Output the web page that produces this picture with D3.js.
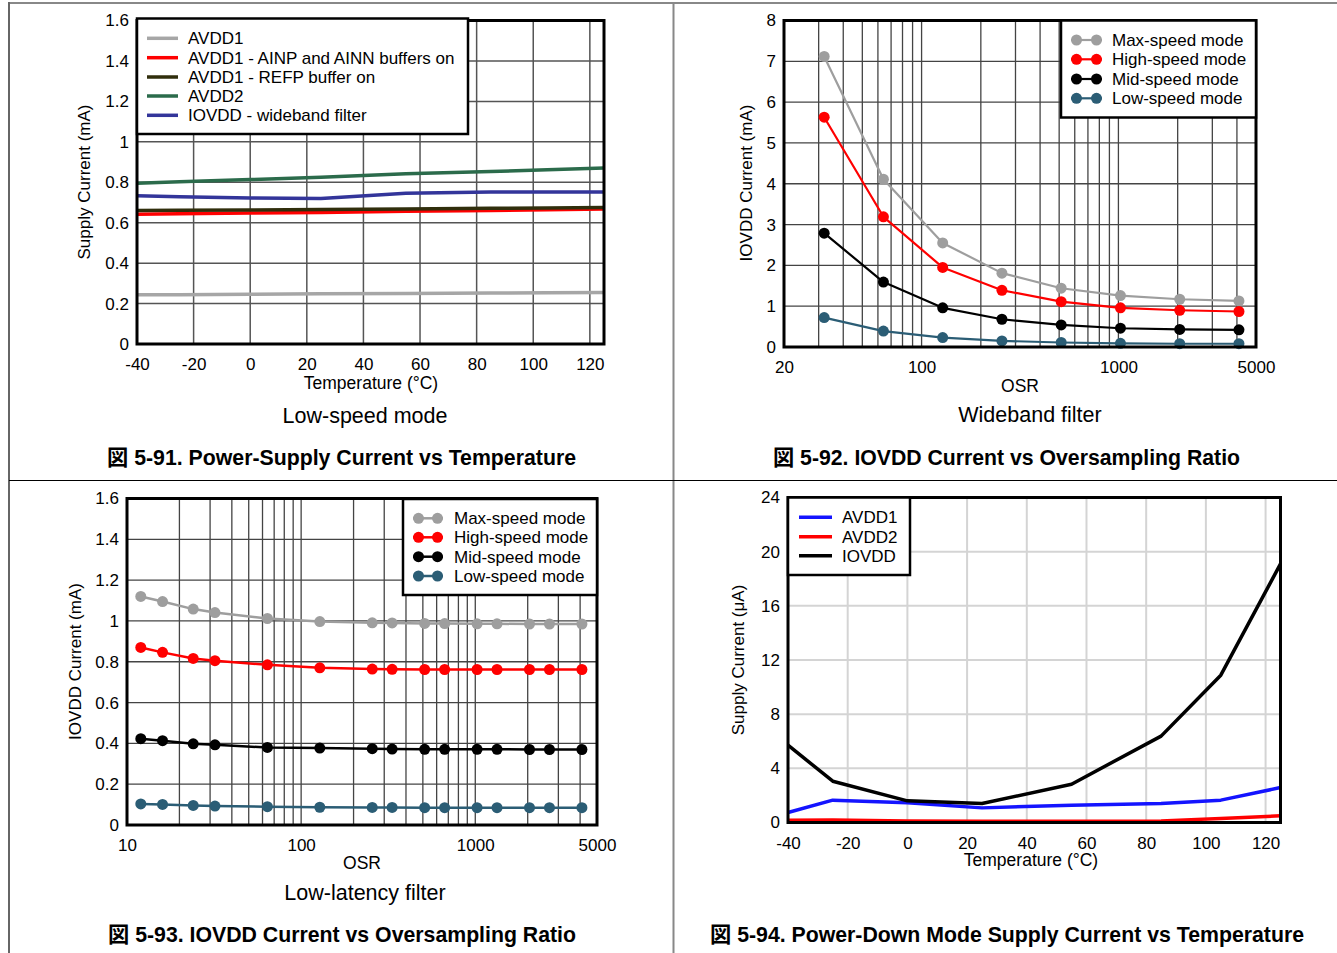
<!DOCTYPE html>
<html><head><meta charset="utf-8">
<script src="https://cdn.jsdelivr.net/npm/d3@7"></script>
<style>
body{margin:0;background:#fff}
svg{display:block}
text{font-family:"Liberation Sans",Arial,"Noto Sans CJK JP",sans-serif;fill:#000}
</style>
</head><body>
<svg id="c" width="1337" height="953"></svg>
<script>
// ---------- DATA ----------
// Panel 5-91 : Power-supply current vs temperature (Low-speed mode)
const p1Temps      = [-40, -25, 0, 25, 55, 85, 105, 125];
const p1AVDD1      = [0.243, 0.244, 0.246, 0.248, 0.250, 0.252, 0.253, 0.255];
const p1AVDD1Buf   = [0.642, 0.644, 0.648, 0.651, 0.656, 0.660, 0.664, 0.668];
const p1AVDD1Refp  = [0.660, 0.661, 0.663, 0.665, 0.668, 0.671, 0.673, 0.675];
const p1AVDD2      = [0.795, 0.802, 0.813, 0.825, 0.842, 0.853, 0.862, 0.870];
const p1IOVDD      = [0.733, 0.728, 0.722, 0.720, 0.745, 0.752, 0.752, 0.752];
const p1Names      = ["AVDD1", "AVDD1 - AINP and AINN buffers on", "AVDD1 - REFP buffer on", "AVDD2", "IOVDD - wideband filter"];
const p1XTicks     = [-40, -20, 0, 20, 40, 60, 80, 100, 120];
const p1YTicks     = [0, 0.2, 0.4, 0.6, 0.8, 1, 1.2, 1.4, 1.6];

// Panel 5-92 : IOVDD current vs OSR (Wideband filter)
const p2OSR  = [32, 64, 128, 256, 512, 1024, 2048, 4096];
const p2Max  = [7.12, 4.11, 2.55, 1.81, 1.44, 1.26, 1.17, 1.13];
const p2High = [5.63, 3.19, 1.95, 1.39, 1.11, 0.96, 0.90, 0.87];
const p2Mid  = [2.79, 1.59, 0.96, 0.68, 0.54, 0.46, 0.43, 0.42];
const p2Low  = [0.72, 0.39, 0.23, 0.15, 0.11, 0.09, 0.08, 0.08];
const modeNames = ["Max-speed mode", "High-speed mode", "Mid-speed mode", "Low-speed mode"];
const p2XTicks = [20, 100, 1000, 5000];
const p2YTicks = [0, 1, 2, 3, 4, 5, 6, 7, 8];

// Panel 5-93 : IOVDD current vs OSR (Low-latency filter)
const p3OSR  = [12, 16, 24, 32, 64, 128, 256, 333, 512, 667, 1024, 1333, 2048, 2667, 4096];
const p3Max  = [1.120, 1.095, 1.058, 1.041, 1.012, 0.997, 0.991, 0.990, 0.988, 0.987, 0.986, 0.986, 0.985, 0.985, 0.985];
const p3High = [0.870, 0.846, 0.816, 0.805, 0.785, 0.770, 0.764, 0.763, 0.762, 0.762, 0.762, 0.762, 0.762, 0.762, 0.762];
const p3Mid  = [0.423, 0.413, 0.398, 0.393, 0.380, 0.377, 0.374, 0.372, 0.371, 0.371, 0.371, 0.371, 0.370, 0.370, 0.370];
const p3Low  = [0.103, 0.101, 0.096, 0.093, 0.090, 0.087, 0.086, 0.086, 0.085, 0.085, 0.085, 0.085, 0.085, 0.085, 0.085];
const p3XTicks = [10, 100, 1000, 5000];
const p3YTicks = [0, 0.2, 0.4, 0.6, 0.8, 1, 1.2, 1.4, 1.6];

// Panel 5-94 : Power-down supply current vs temperature
const p4Temps = [-40, -25, 0, 25, 55, 85, 105, 125];
const p4AVDD1 = [0.74, 1.65, 1.45, 1.08, 1.28, 1.40, 1.65, 2.58];
const p4AVDD2 = [0.17, 0.18, 0.12, 0.10, 0.10, 0.12, 0.30, 0.49];
const p4IOVDD = [5.71, 3.05, 1.60, 1.40, 2.83, 6.38, 10.88, 19.10];
const p4Names = ["AVDD1", "AVDD2", "IOVDD"];
const p4XTicks = [-40, -20, 0, 20, 40, 60, 80, 100, 120];
const p4YTicks = [0, 4, 8, 12, 16, 20, 24];

// ---------- DRAWING ----------
const svg = d3.select("#c");
const FONT = '"Liberation Sans", Arial, "Noto Sans CJK JP", sans-serif';
const fmt = d => String(d);

// page frame lines
svg.append("line").attr("x1",8).attr("x2",1337).attr("y1",3).attr("y2",3).attr("stroke","#888").attr("stroke-width",2);
svg.append("line").attr("x1",9).attr("x2",9).attr("y1",2).attr("y2",953).attr("stroke","#666").attr("stroke-width",2);
svg.append("line").attr("x1",673.5).attr("x2",673.5).attr("y1",3).attr("y2",953).attr("stroke","#888").attr("stroke-width",2);
svg.append("line").attr("x1",9).attr("x2",1337).attr("y1",480.5).attr("y2",480.5).attr("stroke","#000").attr("stroke-width",1.2);

function drawPanel(o){
  const g = svg.append("g");
  const x = (o.log ? d3.scaleLog() : d3.scaleLinear()).domain(o.xDomain).range([o.left, o.right]);
  const y = d3.scaleLinear().domain(o.yDomain).range([o.bottom, o.top]);

  // grid
  const gx = o.log ? x.ticks().filter(d => d > o.xDomain[0] && d < o.xDomain[1]) : o.gridX;
  g.append("g").selectAll("line").data(gx).join("line")
    .attr("x1", d => x(d)).attr("x2", d => x(d)).attr("y1", o.top).attr("y2", o.bottom)
    .attr("stroke", o.gridColor).attr("stroke-width", o.gridWidth);
  g.append("g").selectAll("line").data(o.gridY).join("line")
    .attr("y1", d => y(d)).attr("y2", d => y(d)).attr("x1", o.left).attr("x2", o.right)
    .attr("stroke", o.gridColor).attr("stroke-width", o.gridWidth);

  // series
  const line = d3.line().x(d => x(d[0])).y(d => y(d[1]));
  o.series.forEach(s => {
    const pts = s.x.map((v, i) => [v, s.y[i]]);
    g.append("path").datum(pts).attr("d", line).attr("fill", "none")
      .attr("stroke", s.color).attr("stroke-width", s.width).attr("stroke-linejoin","round");
    if (s.r) {
      g.append("g").selectAll("circle").data(pts).join("circle")
        .attr("cx", d => x(d[0])).attr("cy", d => y(d[1])).attr("r", s.r).attr("fill", s.color);
    }
  });

  // frame
  g.append("rect").attr("x", o.left).attr("y", o.top)
    .attr("width", o.right - o.left).attr("height", o.bottom - o.top)
    .attr("fill", "none").attr("stroke", "#000").attr("stroke-width", o.frameW);

  // axes
  const ax = g.append("g").attr("transform", `translate(0,${o.bottom})`)
    .call(d3.axisBottom(x).tickValues(o.xTicks).tickFormat(fmt).tickSize(0).tickPadding(14));
  ax.select(".domain").remove();
  ax.attr("font-size", 17).attr("font-family", FONT).attr("color", "#000");
  const ay = g.append("g").attr("transform", `translate(${o.left},0)`)
    .call(d3.axisLeft(y).tickValues(o.yTicks).tickFormat(fmt).tickSize(0).tickPadding(8));
  ay.select(".domain").remove();
  ay.attr("font-size", 17).attr("font-family", FONT).attr("color", "#000");

  // titles
  g.append("text").attr("x", o.xTitle[1]).attr("y", o.xTitle[2]).attr("text-anchor", "middle")
    .attr("font-size", 17.5).text(o.xTitle[0]);
  g.append("text").attr("transform", `translate(${o.yTitle[1]},${o.yTitle[2]}) rotate(-90)`)
    .attr("text-anchor", "middle").attr("dy", "0.35em").attr("font-size", 17).text(o.yTitle[0]);
  if (o.sub) g.append("text").attr("x", o.sub[1]).attr("y", o.sub[2]).attr("text-anchor", "middle")
    .attr("font-size", 21.5).text(o.sub[0]);
  g.append("text").attr("x", o.cap[1]).attr("y", o.cap[2]).attr("font-size", 22).attr("font-weight", "bold")
    .attr("textLength", o.cap[3]).attr("lengthAdjust", "spacingAndGlyphs").text(o.cap[0]);

  // legend
  const L = o.legend;
  g.append("rect").attr("x", L.x0).attr("y", L.y0).attr("width", L.x1 - L.x0).attr("height", L.y1 - L.y0)
    .attr("fill", "#fff").attr("stroke", "#000").attr("stroke-width", 2.5);
  o.series.forEach((s, i) => {
    const ry = L.rows[i];
    g.append("line").attr("x1", L.sx0).attr("x2", L.sx1).attr("y1", ry).attr("y2", ry)
      .attr("stroke", s.color).attr("stroke-width", L.lw);
    if (s.r) {
      [L.sx0 + s.r, L.sx1 - s.r].forEach(cx => g.append("circle").attr("cx", cx).attr("cy", ry).attr("r", s.r).attr("fill", s.color));
    }
    g.append("text").attr("x", L.tx).attr("y", ry).attr("dy", "0.35em").attr("font-size", 17).text(L.names[i]);
  });
}

// Panel 1
drawPanel({
  left: 137, right: 604, top: 20.5, bottom: 344, frameW: 3,
  xDomain: [-40, 125], yDomain: [0, 1.6],
  gridX: p1XTicks.slice(1), gridY: p1YTicks.slice(1, -1), gridColor: "#555", gridWidth: 1.5,
  xTicks: p1XTicks, yTicks: p1YTicks,
  series: [
    {x: p1Temps, y: p1AVDD1, color: "#a6a6a6", width: 3.5},
    {x: p1Temps, y: p1AVDD1Buf, color: "#ff0000", width: 3.5},
    {x: p1Temps, y: p1AVDD1Refp, color: "#302e0c", width: 3.5},
    {x: p1Temps, y: p1AVDD2, color: "#2b6b4b", width: 3.5},
    {x: p1Temps, y: p1IOVDD, color: "#33359a", width: 3.5}
  ],
  xTitle: ["Temperature (°C)", 371, 389], yTitle: ["Supply Current (mA)", 84, 182],
  sub: ["Low-speed mode", 365, 423],
  cap: ["図 5-91. Power-Supply Current vs Temperature", 107, 465, 469],
  legend: {x0: 137, y0: 18.5, x1: 468, y1: 134, rows: [38.3, 57.7, 77, 96, 115.3],
           sx0: 147, sx1: 178, tx: 188, lw: 3.5, names: p1Names}
});

// Panel 2
drawPanel({
  log: true,
  left: 784, right: 1256, top: 20.5, bottom: 347, frameW: 3,
  xDomain: [20, 5000], yDomain: [0, 8],
  gridY: p2YTicks.slice(1, -1), gridColor: "#444", gridWidth: 1.3,
  xTicks: p2XTicks, yTicks: p2YTicks,
  series: [
    {x: p2OSR, y: p2Max, color: "#9e9e9e", width: 2.2, r: 5.5},
    {x: p2OSR, y: p2High, color: "#ff0000", width: 2.2, r: 5.5},
    {x: p2OSR, y: p2Mid, color: "#000000", width: 2.2, r: 5.5},
    {x: p2OSR, y: p2Low, color: "#2b5d75", width: 2.2, r: 5.5}
  ],
  xTitle: ["OSR", 1020, 392], yTitle: ["IOVDD Current (mA)", 746, 183],
  sub: ["Wideband filter", 1030, 422],
  cap: ["図 5-92. IOVDD Current vs Oversampling Ratio", 773, 465, 467],
  legend: {x0: 1061, y0: 20.5, x1: 1256, y1: 117.5, rows: [40, 59.3, 79, 98.3],
           sx0: 1071, sx1: 1102, tx: 1112, lw: 2.2, names: modeNames}
});

// Panel 3
drawPanel({
  log: true,
  left: 127, right: 597, top: 498.5, bottom: 825, frameW: 3,
  xDomain: [10, 5000], yDomain: [0, 1.6],
  gridY: p3YTicks.slice(1, -1), gridColor: "#444", gridWidth: 1.3,
  xTicks: p3XTicks, yTicks: p3YTicks,
  series: [
    {x: p3OSR, y: p3Max, color: "#9e9e9e", width: 2.5, r: 5.5},
    {x: p3OSR, y: p3High, color: "#ff0000", width: 2.5, r: 5.5},
    {x: p3OSR, y: p3Mid, color: "#000000", width: 2.5, r: 5.5},
    {x: p3OSR, y: p3Low, color: "#2b5d75", width: 2.5, r: 5.5}
  ],
  xTitle: ["OSR", 362, 869], yTitle: ["IOVDD Current (mA)", 75, 661.5],
  sub: ["Low-latency filter", 365, 900],
  cap: ["図 5-93. IOVDD Current vs Oversampling Ratio", 108, 942, 468],
  legend: {x0: 403, y0: 499, x1: 597, y1: 595, rows: [518.3, 537.3, 556.7, 576],
           sx0: 413, sx1: 443, tx: 454, lw: 2.5, names: modeNames}
});

// Panel 4
drawPanel({
  left: 788, right: 1280.5, top: 497.5, bottom: 822.5, frameW: 3,
  xDomain: [-40, 125], yDomain: [0, 24],
  gridX: p4XTicks.slice(1), gridY: p4YTicks.slice(1, -1), gridColor: "#d4d4d4", gridWidth: 2,
  xTicks: p4XTicks, yTicks: p4YTicks,
  series: [
    {x: p4Temps, y: p4AVDD1, color: "#1414ff", width: 3.5},
    {x: p4Temps, y: p4AVDD2, color: "#ff0000", width: 3.5},
    {x: p4Temps, y: p4IOVDD, color: "#000000", width: 3.5}
  ],
  xTitle: ["Temperature (°C)", 1031, 866], yTitle: ["Supply Current (μA)", 738, 660],
  cap: ["図 5-94. Power-Down Mode Supply Current vs Temperature", 710, 942, 594],
  legend: {x0: 788, y0: 497.5, x1: 910, y1: 575, rows: [517.3, 536.7, 555.7],
           sx0: 799, sx1: 832, tx: 842, lw: 3.5, names: p4Names}
});
</script>
</body></html>
